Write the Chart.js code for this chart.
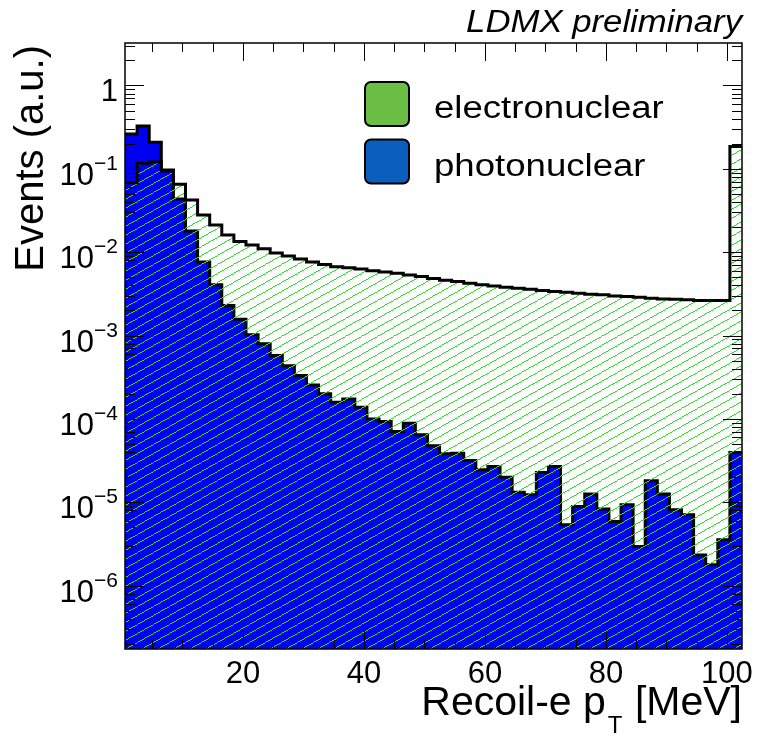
<!DOCTYPE html>
<html>
<head>
<meta charset="utf-8">
<script src="https://cdn.jsdelivr.net/npm/chart.js@4"></script>
<style>
  html, body { margin: 0; padding: 0; background: #fff; }
  #wrap { width: 758px; height: 736px; position: relative; }
</style>
</head>
<body>
<div id="wrap"><canvas id="ptChart"></canvas></div>
<script>
// recoil electron pT, 2 MeV bins
const binWidth = 2;
const binCenters = [1.5, 3.5, 5.5, 7.5, 9.5, 11.5, 13.5, 15.5, 17.5, 19.5,
    21.5, 23.5, 25.5, 27.5, 29.5, 31.5, 33.5, 35.5, 37.5, 39.5,
    41.5, 43.5, 45.5, 47.5, 49.5, 51.5, 53.5, 55.5, 57.5, 59.5,
    61.5, 63.5, 65.5, 67.5, 69.5, 71.5, 73.5, 75.5, 77.5, 79.5,
    81.5, 83.5, 85.5, 87.5, 89.5, 91.5, 93.5, 95.5, 97.5, 99.5, 101.5];

const electronuclear = [0.068, 0.117, 0.121, 0.094, 0.0654, 0.0424, 0.028, 0.0212, 0.0161, 0.0134,
    0.0122, 0.011, 0.0098, 0.00903, 0.0083, 0.00765, 0.0071, 0.00667, 0.00653, 0.0063,
    0.00601, 0.0058, 0.0056, 0.00534, 0.0051, 0.00485, 0.00462, 0.00444, 0.00425, 0.00406,
    0.00394, 0.0038, 0.0037, 0.0036, 0.00347, 0.00337, 0.00331, 0.00322, 0.00313, 0.00308,
    0.00299, 0.00294, 0.00289, 0.00281, 0.00275, 0.00273, 0.00268, 0.00263, 0.00263, 0.00263, 0.185];

const photonuclear = [0.262, 0.327, 0.208, 0.097, 0.0435, 0.018, 0.00765, 0.00406, 0.0023, 0.00157,
    0.00102, 0.000795, 0.000575, 0.000433, 0.000331, 0.000256, 0.0002, 0.000159, 0.000173, 0.000138,
    9.95e-5, 9.3e-5, 7.06e-5, 8.9e-5, 6.45e-5, 4.76e-5, 3.82e-5, 3.89e-5, 3.17e-5, 2.45e-5,
    2.69e-5, 2.0e-5, 1.32e-5, 1.23e-5, 2.28e-5, 2.69e-5, 5.37e-6, 8.9e-6, 1.26e-5, 8.3e-6,
    5.89e-6, 9.33e-6, 2.95e-6, 1.82e-5, 1.26e-5, 8.13e-6, 7.08e-6, 2.34e-6, 1.78e-6, 3.55e-6, 3.95e-5];

const seriesNames = ['electronuclear', 'photonuclear'];
const legendColors = ['#6cbf45', '#0a5fbe'];
const xTickLabels = [20, 40, 60, 80, 100];
const yDecades = [0, -1, -2, -3, -4, -5, -6];

const FONT = "'Liberation Sans', Arial, Helvetica, sans-serif";

// histogram as a step line: one point per lower bin edge + closing point
function stepPoints(values) {
    const pts = binCenters.map((c, i) => ({ x: c - binWidth / 2, y: values[i] }));
    const last = binCenters.length - 1;
    pts.push({ x: binCenters[last] + binWidth / 2, y: values[last] });
    return pts;
}

// ROOT-like hatch: crisp 1px diagonal lines, transparent between them
function makeHatch() {
    const w = 16, h = 9;
    const c = document.createElement('canvas');
    c.width = w;
    c.height = h;
    const g = c.getContext('2d');
    g.fillStyle = '#22e622';
    for (let x = 0; x < w; x++) {
        const y = Math.floor(h - 1 - x * h / w + 0.5);
        g.fillRect(x, (y + h) % h, 1, 1);
    }
    return g.createPattern(c, 'repeat');
}

const rootFrame = {
    id: 'rootFrame',
    afterDraw(chart) {
        const ctx = chart.ctx;
        const { left, right, top, bottom } = chart.chartArea;
        const xs = chart.scales.x;
        const ys = chart.scales.y;
        ctx.save();

        // frame
        ctx.strokeStyle = '#000';
        ctx.lineWidth = 1.5;
        ctx.strokeRect(left, top, right - left, bottom - top);

        // x ticks, bottom and top, pointing inwards
        ctx.lineWidth = 1;
        for (let v = 5; v <= 100; v += 5) {
            const px = Math.round(xs.getPixelForValue(v)) + 0.5;
            const len = v % 20 === 0 ? 18 : 9;
            ctx.beginPath();
            ctx.moveTo(px, bottom);
            ctx.lineTo(px, bottom - len);
            ctx.moveTo(px, top);
            ctx.lineTo(px, top + len);
            ctx.stroke();
        }

        // y ticks (log), left and right
        for (let d = -7; d <= 0; d++) {
            for (let m = 1; m <= 9; m++) {
                const v = m * Math.pow(10, d);
                if (v < ys.min || v > ys.max) continue;
                const py = Math.round(ys.getPixelForValue(v)) + 0.5;
                const len = m === 1 ? 19 : 10;
                ctx.beginPath();
                ctx.moveTo(left, py);
                ctx.lineTo(left + len, py);
                ctx.moveTo(right, py);
                ctx.lineTo(right - len, py);
                ctx.stroke();
            }
        }

        ctx.fillStyle = '#000';

        // x tick labels
        ctx.font = '31px ' + FONT;
        ctx.textAlign = 'center';
        ctx.textBaseline = 'alphabetic';
        xTickLabels.forEach(v => {
            ctx.fillText(String(v), xs.getPixelForValue(v), 683);
        });

        // y tick labels 10^n
        const labelRight = 118;
        yDecades.forEach(d => {
            const py = ys.getPixelForValue(Math.pow(10, d));
            ctx.textAlign = 'right';
            if (d === 0) {
                ctx.font = '31px ' + FONT;
                ctx.fillText('1', labelRight, py + 16);
                return;
            }
            ctx.font = '21px ' + FONT;
            const sup = '\u2212' + (-d);
            const supW = ctx.measureText(sup).width;
            ctx.fillText(sup, labelRight, py + 1);
            ctx.font = '31px ' + FONT;
            ctx.fillText('10', labelRight - supW, py + 16);
        });

        // y title
        ctx.save();
        ctx.translate(43, 45);
        ctx.rotate(-Math.PI / 2);
        ctx.font = '40px ' + FONT;
        ctx.textAlign = 'right';
        ctx.fillText('Events (a.u.)', 0, 0);
        ctx.restore();

        // x title with subscript T
        ctx.textAlign = 'left';
        ctx.font = '41px ' + FONT;
        const partA = 'Recoil-e p';
        const partB = ' [MeV]';
        const wA = ctx.measureText(partA).width;
        const wB = ctx.measureText(partB).width;
        ctx.font = '24px ' + FONT;
        const wT = ctx.measureText('T').width + 3;
        let x0 = 742 - (wA + wT + wB);
        ctx.font = '41px ' + FONT;
        ctx.fillText(partA, x0, 715);
        ctx.font = '24px ' + FONT;
        ctx.fillText('T', x0 + wA + 2, 733);
        ctx.font = '41px ' + FONT;
        ctx.fillText(partB, x0 + wA + wT, 715);

        // header
        ctx.save();
        ctx.font = 'italic 31px ' + FONT;
        ctx.textAlign = 'right';
        ctx.translate(742, 32);
        ctx.scale(1.12, 1);
        ctx.fillText('LDMX preliminary', 0, 0);
        ctx.restore();

        // legend
        const rows = [104, 161.5];
        seriesNames.forEach((name, i) => {
            const cy = rows[i];
            ctx.beginPath();
            ctx.roundRect(365, cy - 22, 44, 44, 6);
            ctx.fillStyle = legendColors[i];
            ctx.fill();
            ctx.lineWidth = 2;
            ctx.strokeStyle = '#000';
            ctx.stroke();
            ctx.save();
            ctx.fillStyle = '#000';
            ctx.font = '31px ' + FONT;
            ctx.textAlign = 'left';
            ctx.translate(434, cy + 14);
            ctx.scale(1.18, 1);
            ctx.fillText(name, 0, 0);
            ctx.restore();
        });

        ctx.restore();
    }
};

document.addEventListener('DOMContentLoaded', () => {
    const ctx = document.getElementById('ptChart').getContext('2d');

    const data = {
        datasets: [{
            label: seriesNames[0],
            data: stepPoints(electronuclear),
            stepped: 'before',
            fill: 'start',
            backgroundColor: makeHatch(),
            borderColor: '#000',
            borderWidth: 3,
            pointRadius: 0
        }, {
            label: seriesNames[1],
            data: stepPoints(photonuclear),
            stepped: 'before',
            fill: 'start',
            backgroundColor: '#0000f0',
            borderColor: '#000',
            borderWidth: 3,
            pointRadius: 0
        }]
    };

    const config = {
        type: 'line',
        data: data,
        options: {
            responsive: true,
            maintainAspectRatio: false,
            animation: false,
            layout: {
                padding: { left: 125, top: 43, right: 16, bottom: 87 }
            },
            plugins: {
                legend: { display: false },
                tooltip: { enabled: false }
            },
            scales: {
                x: { type: 'linear', min: 0.5, max: 102.5, display: false },
                y: { type: 'logarithmic', min: 1.74e-7, max: 3.23, display: false }
            }
        },
        plugins: [rootFrame]
    };

    new Chart(ctx, config);
});
</script>
</body>
</html>
